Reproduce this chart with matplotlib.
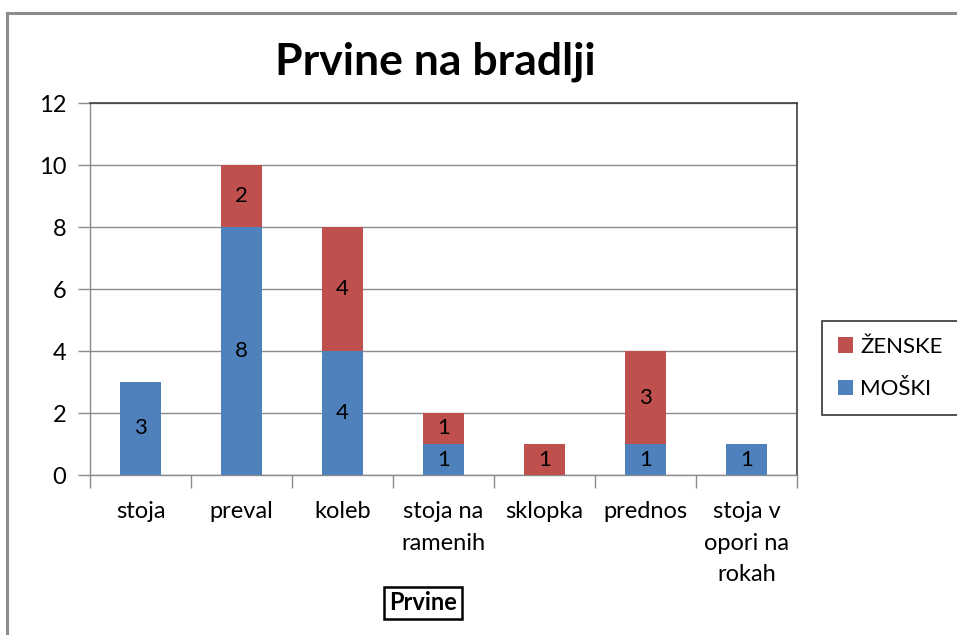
import numpy as np
import matplotlib.pyplot as plt
from matplotlib.lines import Line2D

plt.rcParams['font.family'] = ['Lato', 'DejaVu Sans']

categories = ['stoja', 'preval', 'koleb', 'stoja na\nramenih', 'sklopka', 'prednos', 'stoja v\nopori na\nrokah']
moski = [3, 8, 4, 1, 0, 1, 1]
zenske = [0, 2, 4, 1, 1, 3, 0]

W, H = 957, 635
fig = plt.figure(figsize=(W / 100, H / 100), dpi=100)

# outer chart frame (only left and top edges are visible)
fc = '#8c8c8c'
fig.add_artist(Line2D([7 / W, 7 / W], [0, 1 - 13 / H], transform=fig.transFigure, color=fc, linewidth=2.2))
fig.add_artist(Line2D([7 / W, 1], [1 - 13 / H, 1 - 13 / H], transform=fig.transFigure, color=fc, linewidth=2.2))

ax = fig.add_axes([90 / W, 1 - 475 / H, (797 - 90) / W, (475 - 103) / H])
x = np.arange(len(categories))
blue = '#4f81bd'
red = '#c0504d'
b1 = ax.bar(x, moski, 0.4, color=blue, label='MOŠKI', zorder=3)
b2 = ax.bar(x, zenske, 0.4, bottom=moski, color=red, label='ŽENSKE', zorder=3)

for i in range(len(categories)):
    if moski[i]:
        ax.text(x[i], moski[i] / 2, str(moski[i]), ha='center', va='center', fontsize=16, zorder=4)
    if zenske[i]:
        ax.text(x[i], moski[i] + zenske[i] / 2, str(zenske[i]), ha='center', va='center', fontsize=16, zorder=4)

ax.set_xlim(-0.5, len(categories) - 0.5)
ax.set_ylim(0, 12)
ax.set_yticks(range(0, 13, 2))
ax.yaxis.grid(True, color='#8c8c8c', linewidth=1, zorder=0)
ax.tick_params(axis='y', labelsize=17, length=9, color='#8c8c8c', width=1, pad=8)
ax.set_xticks(x)
ax.set_xticklabels(categories, fontsize=17, linespacing=1.6)
ax.tick_params(axis='x', length=0, pad=19)
ax.set_xticks(np.arange(-0.5, len(categories)), minor=True)
ax.tick_params(axis='x', which='minor', length=9, color='#8c8c8c', width=1)
for side in ['top', 'right']:
    ax.spines[side].set_color('#404040')
    ax.spines[side].set_linewidth(1.2)
for side in ['left', 'bottom']:
    ax.spines[side].set_color('#8c8c8c')
    ax.spines[side].set_linewidth(1)

fig.text(435 / W, 1 - 62 / H, 'Prvine na bradlji', ha='center', va='center',
         fontsize=32, fontweight='bold')
fig.text(423 / W, 1 - 603 / H, 'Prvine', ha='center', va='center', fontsize=17, fontweight='bold',
         bbox=dict(boxstyle='square,pad=0.2', facecolor='white', edgecolor='black', linewidth=1.8))

handles = [b2, b1]
leg = fig.legend(handles, ['ŽENSKE', 'MOŠKI'], loc='center', bbox_to_anchor=(890 / W, 1 - 368 / H),
                 fontsize=16, frameon=True, fancybox=False, edgecolor='black', handlelength=0.7,
                 handleheight=0.7, handletextpad=0.3, labelspacing=1.0, borderpad=0.7)
leg.get_frame().set_linewidth(1.2)

plt.savefig('out.png', dpi=100)
